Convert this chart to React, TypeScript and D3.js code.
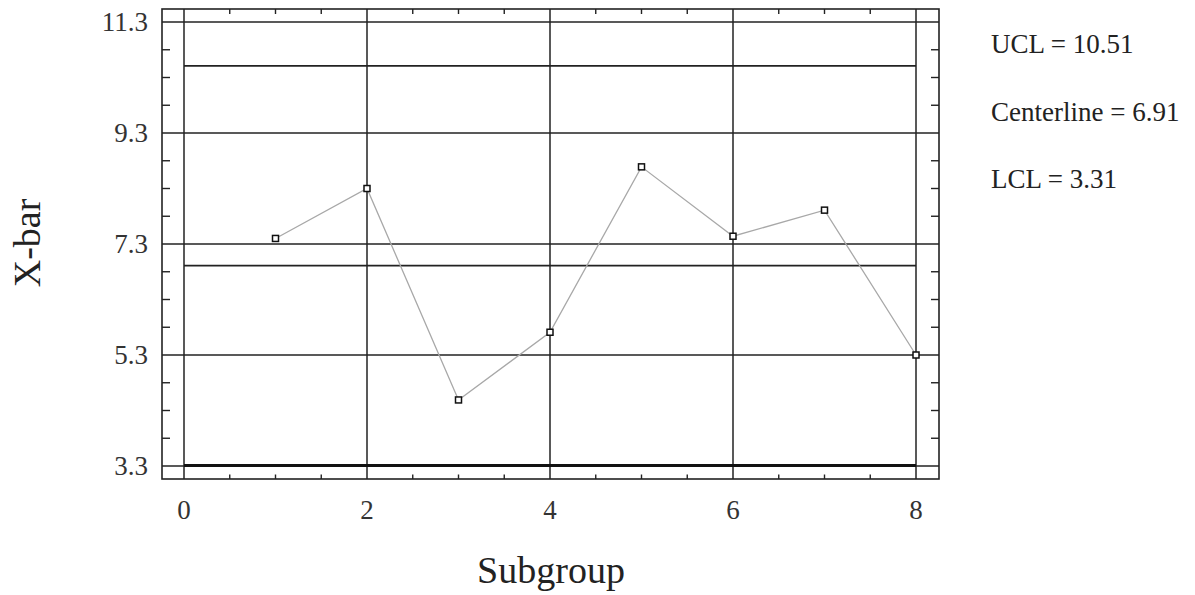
import React from "react";
import * as d3 from "d3";

// X-bar control chart data
const subgroups = [1, 2, 3, 4, 5, 6, 7, 8];
const xbarValues = [7.4, 8.3, 4.49, 5.71, 8.69, 7.44, 7.91, 5.3];
const ucl = 10.51;
const centerline = 6.91;
const lcl = 3.31;
const yTickValues = [3.3, 5.3, 7.3, 9.3, 11.3];
const xTickValues = [0, 2, 4, 6, 8];
const legendLines = [
  `UCL = ${ucl.toFixed(2)}`,
  `Centerline = ${centerline.toFixed(2)}`,
  `LCL = ${lcl.toFixed(2)}`,
];

const W = 1195;
const H = 595;
const FONT = "'Liberation Serif', 'Times New Roman', serif";
const INK = "#222";

export default function App() {
  const x = d3.scaleLinear().domain([0, 8]).range([184, 916]);
  const y = d3.scaleLinear().domain([3.3, 11.3]).range([466, 22]);

  // plot frame extends slightly past the data range
  const frame = { left: 162, right: 939, top: 9, bottom: 479 };

  const xMinor = d3.range(0.5, 8.01, 0.5).filter((v) => v % 2 !== 0);
  const yMinor = d3
    .range(3.8, 11.31, 0.5)
    .filter((v) => !yTickValues.some((t) => Math.abs(t - v) < 1e-6));

  const line = d3
    .line<number>()
    .x((_, i) => x(subgroups[i]))
    .y((d) => y(d));

  return (
    <svg
      width={W}
      height={H}
      style={{ position: "absolute", left: 0, top: 0, background: "#fff" }}
      fontFamily={FONT}
    >
      {/* horizontal grid lines */}
      {yTickValues.map((v) => (
        <line
          key={`hg${v}`}
          x1={frame.left}
          x2={frame.right}
          y1={y(v)}
          y2={y(v)}
          stroke={INK}
          strokeWidth={1.5}
        />
      ))}
      {/* vertical grid lines */}
      {xTickValues.map((v) => (
        <line
          key={`vg${v}`}
          x1={x(v)}
          x2={x(v)}
          y1={frame.top}
          y2={frame.bottom}
          stroke={INK}
          strokeWidth={1.5}
        />
      ))}
      {/* control limits */}
      <line x1={x(0)} x2={x(8)} y1={y(ucl)} y2={y(ucl)} stroke={INK} strokeWidth={1.6} />
      <line
        x1={x(0)}
        x2={x(8)}
        y1={y(centerline)}
        y2={y(centerline)}
        stroke={INK}
        strokeWidth={1.6}
      />
      <line x1={x(0)} x2={x(8)} y1={y(lcl)} y2={y(lcl)} stroke="#111" strokeWidth={3} />

      {/* frame */}
      <rect
        x={frame.left}
        y={frame.top}
        width={frame.right - frame.left}
        height={frame.bottom - frame.top}
        fill="none"
        stroke={INK}
        strokeWidth={1.6}
      />
      {/* minor ticks */}
      {xMinor.map((v) => (
        <g key={`xm${v}`} stroke={INK} strokeWidth={1.4}>
          <line x1={x(v)} x2={x(v)} y1={frame.bottom} y2={frame.bottom - 4.5} />
          <line x1={x(v)} x2={x(v)} y1={frame.top} y2={frame.top + 5} />
        </g>
      ))}
      {yMinor.map((v) => (
        <g key={`ym${v}`} stroke={INK} strokeWidth={1.4}>
          <line x1={frame.left} x2={frame.left + 8} y1={y(v)} y2={y(v)} />
          <line x1={frame.right} x2={frame.right - 8} y1={y(v)} y2={y(v)} />
        </g>
      ))}

      {/* data */}
      <path d={line(xbarValues) ?? ""} fill="none" stroke="#a8a8a8" strokeWidth={1.3} />
      {xbarValues.map((v, i) => (
        <rect
          key={`pt${i}`}
          x={x(subgroups[i]) - 3}
          y={y(v) - 3}
          width={6}
          height={6}
          fill="#fff"
          stroke="#111"
          strokeWidth={1.5}
        />
      ))}

      {/* tick labels */}
      {yTickValues.map((v) => (
        <text
          key={`yl${v}`}
          x={148}
          y={y(v)}
          dy="0.35em"
          textAnchor="end"
          fontSize={27}
          fill="#333"
        >
          {v.toFixed(1)}
        </text>
      ))}
      {xTickValues.map((v) => (
        <text key={`xl${v}`} x={x(v)} y={519} textAnchor="middle" fontSize={27} fill="#333">
          {v}
        </text>
      ))}

      {/* axis titles */}
      <text x={551} y={583} textAnchor="middle" fontSize={38} fill="#222">
        Subgroup
      </text>
      <text
        transform="translate(40,243) rotate(-90)"
        textAnchor="middle"
        fontSize={38}
        fill="#222"
      >
        X-bar
      </text>

      {/* control limit legend */}
      {legendLines.map((t, i) => (
        <text key={t} x={991} y={53 + i * 67.5} fontSize={27} fill="#222">
          {t}
        </text>
      ))}
    </svg>
  );
}
